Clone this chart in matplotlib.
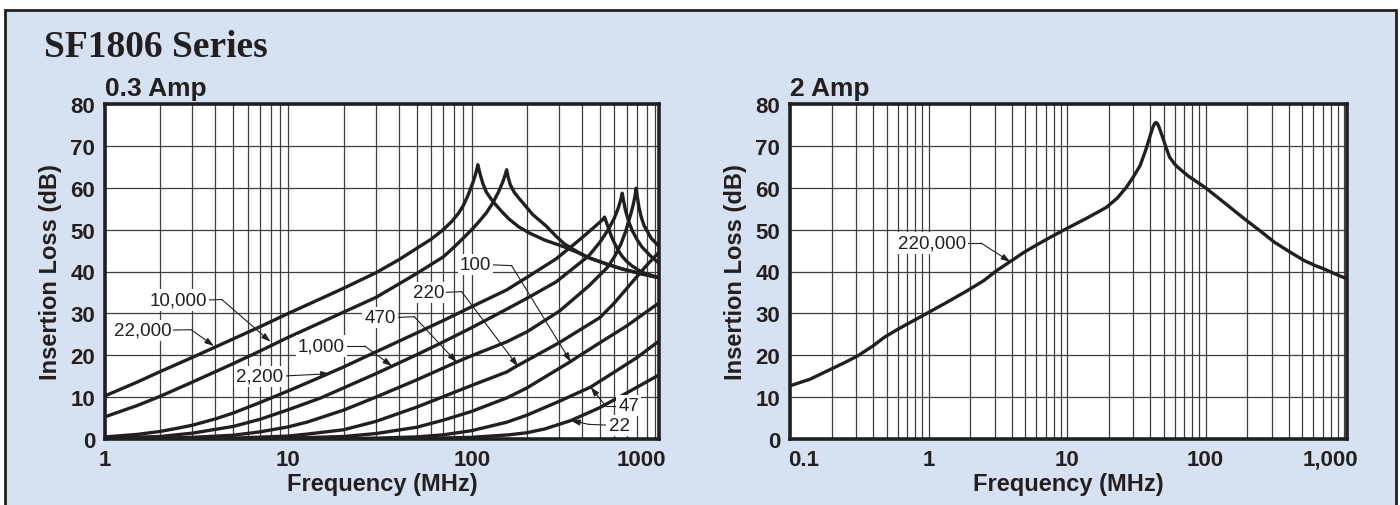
import matplotlib.pyplot as plt
import matplotlib.transforms as mtrans
from matplotlib.patches import Rectangle
from matplotlib.ticker import FixedLocator, LogLocator, NullFormatter

# ---- data ----
# 0.3 Amp chart, one curve per capacitance (pF)
f_22000 = [1, 1.5, 2, 3, 5, 7, 10, 15, 20, 30, 40, 50, 60, 70, 78, 85, 90, 95, 98, 102, 105, 108,
           111, 115, 120, 128, 136, 148, 160, 180, 206, 250, 314, 380, 434, 550, 662, 850, 1050]
il_22000 = [10.3, 13.6, 16.1, 19.5, 23.9, 26.8, 30.0, 33.5, 36.0, 39.7, 42.8, 45.5, 47.7, 50.0, 52.0, 54.0, 55.8, 58.0, 59.5, 61.5, 63.3, 65.5,
            63.3, 61.0, 59.0, 57.2, 55.8, 54.0, 52.5, 50.7, 49.2, 47.5, 46.0, 44.5, 43.3, 41.7, 40.6, 39.4, 38.5]

f_10000 = [1, 1.5, 2, 3, 5, 7, 10, 15, 20, 30, 50, 70, 80, 90, 100, 110, 120, 130, 140, 148, 152, 155,
           158, 162, 170, 180, 190, 215, 254, 290, 320, 380, 434, 550, 662, 850, 1050]
il_10000 = [5.3, 8.0, 10.2, 13.6, 18.0, 21.0, 24.3, 27.8, 30.3, 33.8, 39.5, 43.5, 45.8, 48.0, 50.0, 52.0, 54.0, 56.3, 59.0, 61.5, 63.0, 64.3,
            62.5, 60.8, 59.0, 57.6, 56.4, 53.6, 50.9, 48.3, 46.6, 44.6, 43.3, 41.7, 40.6, 39.4, 38.5]

f_2200 = [1, 1.5, 2, 2.5, 3, 4, 5, 7, 10, 15, 20, 30, 50, 70, 100, 155, 200, 288, 350, 400, 460, 500, 520, 530,
          545, 560, 580, 600, 630, 662, 700, 750, 850, 1050]
il_2200 = [0.5, 1.1, 1.8, 2.6, 3.3, 4.8, 6.2, 8.7, 11.5, 14.8, 17.2, 20.8, 25.3, 28.3, 31.6, 35.6, 38.6, 43.0, 46.0, 48.1, 50.4, 51.8, 52.5, 53.0,
           51.5, 50.0, 48.2, 46.8, 45.0, 43.6, 42.4, 41.3, 39.8, 38.5]

f_1000 = [1, 2, 3, 5, 7, 10, 15, 20, 30, 50, 70, 100, 155, 200, 288, 434, 500, 557, 600, 630, 650, 662,
          672, 690, 720, 750, 800, 850, 950, 1050]
il_1000 = [0.2, 0.6, 1.4, 3.0, 4.7, 7.0, 9.8, 12.2, 15.6, 20.1, 23.2, 26.6, 31.0, 33.6, 37.5, 43.7, 47.0, 50.1, 52.8, 55.2, 57.2, 58.7,
           57.0, 54.5, 51.8, 49.8, 47.5, 45.8, 43.6, 42.0]

f_470 = [1, 2, 3, 5, 7, 10, 12.8, 20, 30, 50, 81, 100, 155, 200, 300, 434, 550, 600, 650, 690, 715, 740, 760, 775, 789,
         800, 815, 840, 870, 950, 1050]
il_470 = [0.05, 0.2, 0.4, 0.9, 1.7, 2.9, 4.1, 6.9, 10.0, 14.1, 18.2, 19.9, 23.2, 25.6, 30.5, 36.5, 41.0, 43.5, 46.5, 49.5, 51.8, 54.0, 56.0, 57.8, 59.9,
          57.8, 55.5, 53.0, 51.0, 48.0, 46.0]

f_220 = [3, 5, 10, 12.8, 20, 30, 50, 100, 155, 174, 300, 500, 600, 751, 900, 1050]
il_220 = [0.05, 0.2, 0.7, 1.2, 2.2, 4.2, 7.6, 12.8, 16.0, 17.3, 23.0, 29.0, 32.5, 37.5, 41.5, 44.6]

f_100 = [5, 10, 20, 30, 50, 70, 100, 155, 200, 337, 500, 700, 1050]
il_100 = [0.05, 0.2, 0.6, 1.3, 2.8, 4.5, 6.6, 9.8, 12.2, 18.2, 23.0, 27.0, 32.5]

f_47 = [10, 30, 50, 70, 100, 155, 200, 300, 445, 600, 800, 1050]
il_47 = [0.05, 0.2, 0.5, 1.0, 2.0, 4.0, 5.7, 9.0, 12.4, 16.0, 19.5, 23.4]

f_22 = [20, 50, 100, 160, 200, 250, 347, 500, 700, 1050]
il_22 = [0.02, 0.1, 0.4, 1.0, 1.5, 2.4, 4.4, 7.5, 11.0, 15.3]

curves_left = [(f_22000, il_22000), (f_10000, il_10000), (f_2200, il_2200), (f_1000, il_1000),
               (f_470, il_470), (f_220, il_220), (f_100, il_100), (f_47, il_47), (f_22, il_22)]

# curve labels: text, text anchor, corner of leader, arrow tip, alignment
lab_text = ['10,000', '22,000', '2,200', '1,000', '470', '220', '100', '47', '22']
lab_pos = [(3.6, 33.2), (2.3, 26.0), (9.4, 15.0), (20.3, 22.2), (38.4, 29.0), (70.6, 35.0), (128, 41.6), (631, 7.9), (557, 3.3)]
lab_corner = [(4.34, 33.3), (2.95, 26.1), (10.0, 15.1), (26.1, 22.2), (48.6, 29.2), (88, 35.2), (165, 41.4), (537, 7.9), (434, 3.5)]
lab_tip = [(8.0, 23.2), (3.93, 22.2), (16.9, 15.6), (36.8, 17.4), (83, 18.3), (179, 17.3), (347, 18.4), (445, 12.4), (347, 4.4)]
lab_ha = ['right', 'right', 'right', 'right', 'right', 'right', 'right', 'left', 'left']

# 2 Amp chart
f_220000 = [0.1, 0.14, 0.187, 0.25, 0.31, 0.4, 0.48, 0.6, 0.9, 1.3, 1.9, 2.5, 3.1, 4.9, 6, 7.6, 10, 14, 19.2, 23,
            26.8, 30, 33.7, 37, 39.8, 41.5, 43, 44, 45, 46.5, 48.6, 52, 55, 60, 63, 75, 99, 130, 192, 250, 314,
            400, 516, 620, 718, 850, 955, 1050]
il_220000 = [12.7, 14.3, 16.3, 18.3, 19.9, 22.3, 24.3, 26.2, 29.4, 32.3, 35.4, 37.8, 40.2, 44.6, 46.3, 48.2, 50.3, 52.8, 55.3, 57.5,
             60.1, 62.5, 65.3, 69.0, 72.4, 74.3, 75.4, 75.6, 75.3, 74.2, 72.4, 69.5, 67.3, 65.6, 64.9, 62.8, 60.1, 57.0, 52.5, 49.6, 47.0,
             44.8, 42.6, 41.4, 40.6, 39.5, 38.8, 38.3]

xt_left = [1, 10, 100, 1000]
xt_left_lab = ['1', '10', '100', '1000']
xt_right = [0.1, 1, 10, 100, 1000]
xt_right_lab = ['0.1', '1', '10', '100', '1,000']
yt = [0, 10, 20, 30, 40, 50, 60, 70, 80]

# ---- style ----
ink = '#231f20'
bg = '#d6e2f1'
bold_font = ['Liberation Sans Narrow', 'Liberation Sans', 'DejaVu Sans']

fig = plt.figure(figsize=(14, 5.06), dpi=100)
fig.patch.set_facecolor('white')
fig.add_artist(Rectangle((5 / 1400, -0.05), 1391 / 1400, 1.05 - 11 / 506,
                         transform=fig.transFigure, facecolor=bg, edgecolor=ink, lw=2, zorder=-10))

fig.text(44 / 1400, 1 - 57 / 506, 'SF1806 Series', family='Liberation Serif', weight='bold',
         fontsize=27, color=ink, va='baseline')


def setup(ax, xmin, xmax, ticks, labels, title):
    ax.set_facecolor('white')
    ax.set_xscale('log')
    ax.set_xlim(xmin, xmax)
    ax.set_ylim(0, 80)
    ax.xaxis.set_major_locator(FixedLocator(ticks))
    ax.set_xticklabels(labels)
    ax.xaxis.set_minor_locator(LogLocator(base=10, subs=range(2, 10), numticks=20))
    ax.xaxis.set_minor_formatter(NullFormatter())
    ax.set_yticks(yt)
    ax.grid(which='both', axis='x', color='#3d3d3d', lw=0.9)
    ax.grid(which='major', axis='y', color='#3d3d3d', lw=0.9)
    ax.tick_params(which='both', length=0, pad=7, labelsize=16, labelcolor=ink)
    for lab in ax.get_xticklabels() + ax.get_yticklabels():
        lab.set_family(bold_font)
        lab.set_weight('bold')
    for sp in ax.spines.values():
        sp.set_linewidth(2.6)
        sp.set_color(ink)
        sp.set_zorder(6)
    ax.set_xlabel('Frequency (MHz)', family=bold_font, weight='bold', fontsize=17, color=ink, labelpad=2)
    ax.set_ylabel('Insertion Loss (dB)', family=bold_font, weight='bold', fontsize=17, color=ink, labelpad=6)
    ax.text(0, 1.012, title, transform=ax.transAxes, family=bold_font, weight='bold',
            fontsize=19, color=ink, va='bottom', ha='left')


def shift(lab, dx):
    lab.set_transform(lab.get_transform() + mtrans.ScaledTranslation(dx / 72, 0, fig.dpi_scale_trans))


axL = fig.add_axes([105 / 1400, 66 / 506, 554 / 1400, 335 / 506])
setup(axL, 1, 1050, xt_left, xt_left_lab, '0.3 Amp')
for f, il in curves_left:
    axL.plot(f, il, color=ink, lw=2.4, zorder=3, solid_joinstyle='round')
for s, p, c, t, ha in zip(lab_text, lab_pos, lab_corner, lab_tip, lab_ha):
    axL.plot([p[0], c[0]], [p[1], c[1]], color=ink, lw=0.8, zorder=4)
    axL.annotate('', xy=t, xytext=c, zorder=4,
                 arrowprops=dict(arrowstyle='-|>,head_length=0.55,head_width=0.18', color=ink,
                                 lw=0.8, shrinkA=0, shrinkB=0))
    axL.text(p[0], p[1], s, ha=ha, va='center', fontsize=13.5, color=ink, family='Liberation Sans',
             zorder=5, bbox=dict(facecolor='white', edgecolor='none', pad=1.5))
shift(axL.get_xticklabels()[-1], -10)

axR = fig.add_axes([790 / 1400, 66 / 506, 557 / 1400, 335 / 506])
setup(axR, 0.1, 1050, xt_right, xt_right_lab, '2 Amp')
axR.plot(f_220000, il_220000, color=ink, lw=2.4, zorder=3, solid_joinstyle='round')
axR.plot([1.87, 2.39], [46.8, 46.8], color=ink, lw=0.8, zorder=4)
axR.annotate('', xy=(3.9, 42.3), xytext=(2.39, 46.8), zorder=4,
             arrowprops=dict(arrowstyle='-|>,head_length=0.55,head_width=0.18', color=ink,
                             lw=0.8, shrinkA=0, shrinkB=0))
axR.text(1.87, 46.8, '220,000', ha='right', va='center', fontsize=13.5, color=ink, family='Liberation Sans',
         zorder=5, bbox=dict(facecolor='white', edgecolor='none', pad=1.5))
shift(axR.get_xticklabels()[0], 10)
shift(axR.get_xticklabels()[-1], -10)

fig.savefig('out.png', dpi=100, facecolor=fig.get_facecolor())
